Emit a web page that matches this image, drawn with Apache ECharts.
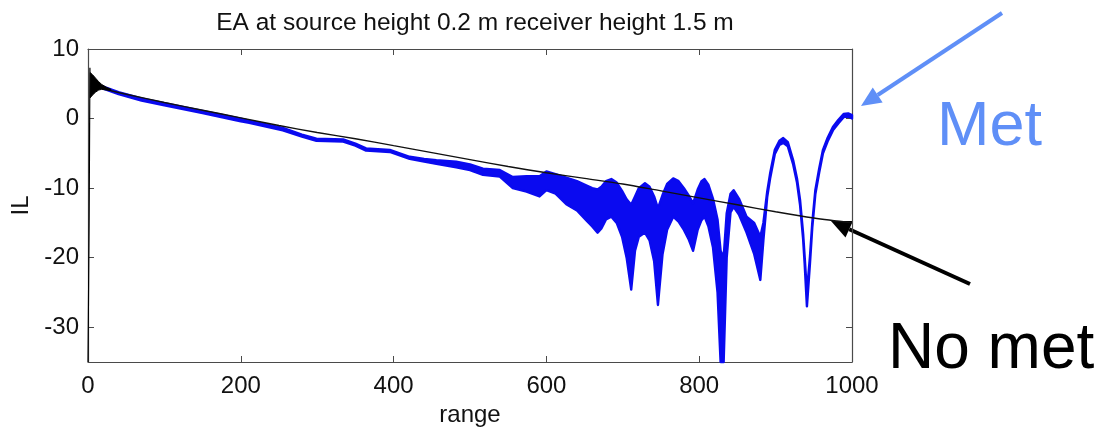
<!DOCTYPE html>
<html>
<head>
<meta charset="utf-8">
<script src="https://cdn.jsdelivr.net/npm/echarts@6/dist/echarts.min.js"></script>
<style>
  html, body { margin: 0; padding: 0; background: #fff; }
  #chart { width: 1110px; height: 429px; }
</style>
</head>
<body>
<div id="chart"></div>
<script>
// ticks
const xTicks = [0, 200, 400, 600, 800, 1000]
const yTicks = [-30, -20, -10, 0, 10]

// "Met" curve: envelope of the fast oscillation (upper / lower edge)
const metRange = [20, 40, 70, 100, 150, 200, 211, 255, 280, 299, 334, 350, 364, 395, 421, 440, 456, 482, 500, 517, 539, 556, 574, 591, 600, 612, 626,
  640, 652, 660, 667, 672, 678, 685, 692, 699, 705, 711, 716, 721, 729, 735, 741, 746, 752, 758, 766, 773, 780, 786, 792, 798, 803, 807, 812, 818, 824, 828, 832, 836, 841, 845,
  852, 862, 872, 880, 884, 889, 893, 899, 905, 910, 916, 923, 928, 932, 936, 938, 941, 945, 948, 952, 957, 962, 968, 975, 982, 989, 995, 1000]
const metUpper = [4.6, 3.8, 2.9, 2.2, 1.1, 0.0, -0.3, -1.35, -2.3, -2.9, -3.0, -3.6, -4.3, -4.5, -5.5, -5.8, -6.0, -6.2, -6.6, -7.2, -7.4, -8.4, -8.3, -8.3, -7.6, -8.0, -8.5,
  -9.0, -9.6, -10.0, -10.2, -9.8, -9.0, -8.7, -9.2, -10.4, -11.6, -12.4, -11.2, -10.0, -9.3, -9.8, -11.2, -12.9, -11.0, -9.4, -8.6, -9.0, -10.0, -11.0, -12.2, -10.2, -9.0, -8.7, -9.5, -11.5, -14.5, -19.0, -20.0, -13.6, -10.8, -10.3,
  -11.5, -14.1, -15.0, -17.0, -15.0, -10.5, -7.8, -4.5, -3.2, -2.8, -3.4, -6.0, -8.6, -11.7, -16.5, -19.8, -25.0, -19.8, -15.0, -10.3, -7.2, -4.5, -2.8, -1.2, -0.2, 0.66, 0.75, 0.5]
const metLower = [4.3, 3.5, 2.6, 1.9, 0.8, -0.4, -0.6, -1.7, -2.6, -3.2, -3.3, -3.9, -4.6, -4.8, -5.8, -6.2, -6.5, -7.0, -7.4, -8.1, -8.35, -10.0, -10.5, -11.2, -10.3, -10.8, -12.3,
  -13.2, -14.6, -15.5, -16.4, -15.8, -14.5, -14.1, -15.0, -17.0, -20.0, -24.6, -19.0, -17.0, -16.4, -17.5, -20.5, -26.8, -19.5, -16.0, -14.1, -14.8, -16.0, -17.3, -19.0, -16.0, -14.6, -14.1, -15.5, -18.5, -25.0, -35.0, -35.0, -20.0, -13.5, -12.7,
  -13.8, -16.4, -19.5, -23.2, -17.5, -11.3, -8.5, -5.1, -3.8, -3.5, -4.0, -6.6, -9.2, -12.4, -17.3, -20.8, -27.0, -20.8, -15.7, -10.9, -7.8, -5.0, -3.3, -1.7, -0.7, 0.2, 0.3, 0.0]

// "No met" curve: near-source spike, oscillating start, then smooth decay
const noMetSpikeRange = [0, 1.5, 2.5, 3]
const noMetSpikeIL = [-35, -14.3, 7.3, 3.0]
const noMetNearRange = [3, 6, 10, 14, 18, 24, 30]
const noMetNearUpper = [6.6, 6.3, 5.8, 5.3, 4.9, 4.5, 4.2]
const noMetNearLower = [3.0, 3.4, 3.8, 4.1, 4.2, 4.1, 4.0]
const noMetRange = [30, 50, 100, 150, 200, 250, 300, 350, 400, 450, 500, 550, 600, 650, 700, 750, 800, 850, 900, 950, 1000]
const noMetIL = [4.0, 3.5, 2.3, 1.2, 0.1, -1.0, -2.0, -2.9, -3.9, -4.9, -5.9, -6.9, -7.8, -8.6, -9.4, -10.4, -11.4, -12.4, -13.4, -14.3, -15.0]

const font = 'Liberation Sans, Arial, sans-serif'
const boxColor = '#4a4a4a'

function band(xs, up, lo, color, z, lw) {
  return {
    type: 'custom',
    silent: true,
    z: z,
    data: [[0, 0]],
    renderItem: (params, api) => {
      const pts = []
      xs.forEach((x, i) => pts.push(api.coord([x, up[i]])))
      for (let i = xs.length - 1; i >= 0; i--) pts.push(api.coord([xs[i], lo[i]]))
      return {
        type: 'polygon',
        shape: { points: pts },
        style: { fill: color, stroke: color, lineWidth: lw, lineJoin: 'round' }
      }
    }
  }
}

function arrow(x1, y1, x2, y2, color) {
  const a = Math.atan2(y2 - y1, x2 - x1)
  const len = 20, w = 9
  const bx = x2 - len * Math.cos(a), by = y2 - len * Math.sin(a)
  const nx = -Math.sin(a) * w, ny = Math.cos(a) * w
  return [
    { type: 'line', shape: { x1, y1, x2: bx, y2: by }, style: { stroke: color, lineWidth: 4 } },
    { type: 'polygon', shape: { points: [[x2, y2], [bx + nx, by + ny], [bx - nx, by - ny]] }, style: { fill: color } }
  ]
}

const chart = echarts.init(document.getElementById('chart'))

const xBase = {
  type: 'value', min: 0, max: 1000, interval: 200,
  axisLine: { onZero: false, lineStyle: { color: boxColor, width: 1.2 } },
  axisTick: { inside: true, length: 6, lineStyle: { color: boxColor } },
  splitLine: { show: false }
}
const yBase = {
  type: 'value', min: -35, max: 10,
  axisLine: { show: true, onZero: false, lineStyle: { color: boxColor, width: 1.2 } },
  axisTick: { show: true, inside: true, length: 6, customValues: yTicks, lineStyle: { color: boxColor } },
  splitLine: { show: false }
}

chart.setOption({
  animation: false,
  backgroundColor: '#fff',
  title: {
    text: 'EA at source height 0.2 m receiver height 1.5 m',
    left: 470, top: 6, textAlign: 'center',
    textStyle: { fontFamily: font, fontSize: 24.5, fontWeight: 'normal', color: '#111' }
  },
  grid: { left: 88, right: 258, top: 49, bottom: 67, outerBoundsMode: 'none' },
  xAxis: [
    Object.assign({}, xBase, {
      position: 'bottom',
      name: 'range', nameLocation: 'middle', nameGap: 38,
      nameTextStyle: { fontFamily: font, fontSize: 24, color: '#111' },
      axisLabel: { margin: 12, fontFamily: font, fontSize: 24, color: '#111', formatter: v => String(v) }
    }),
    Object.assign({}, xBase, { position: 'top', axisLabel: { show: false } })
  ],
  yAxis: [
    Object.assign({}, yBase, {
      position: 'left',
      name: 'IL', nameLocation: 'middle', nameGap: 47,
      nameTextStyle: { fontFamily: font, fontSize: 24, color: '#111' },
      axisLabel: { margin: 9, customValues: yTicks, fontFamily: font, fontSize: 24, color: '#111' }
    }),
    Object.assign({}, yBase, { position: 'right', axisLabel: { show: false } })
  ],
  series: [
    band(metRange, metUpper, metLower, '#0a0af0', 2, 2.4),
    band(noMetNearRange, noMetNearUpper, noMetNearLower, '#000', 3, 1),
    {
      type: 'line', silent: true, symbol: 'none', z: 4,
      data: noMetSpikeRange.map((r, i) => [r, noMetSpikeIL[i]]),
      lineStyle: { color: '#000', width: 1.2 }
    },
    {
      type: 'line', silent: true, symbol: 'none', z: 4, smooth: 0.3,
      data: noMetRange.map((r, i) => [r, noMetIL[i]]),
      lineStyle: { color: '#111', width: 1.4 }
    }
  ],
  graphic: [
    ...arrow(1002, 13, 861, 106, '#5f8ff7'),
    ...arrow(970, 284, 831, 221, '#000'),
    {
      type: 'text', left: 937, top: 96,
      style: { text: 'Met', fontFamily: font, fontSize: 63, fill: '#5f8ff7' }
    },
    {
      type: 'text', left: 888, top: 318,
      style: { text: 'No met', fontFamily: font, fontSize: 64, fill: '#000' }
    }
  ]
})
</script>
</body>
</html>
